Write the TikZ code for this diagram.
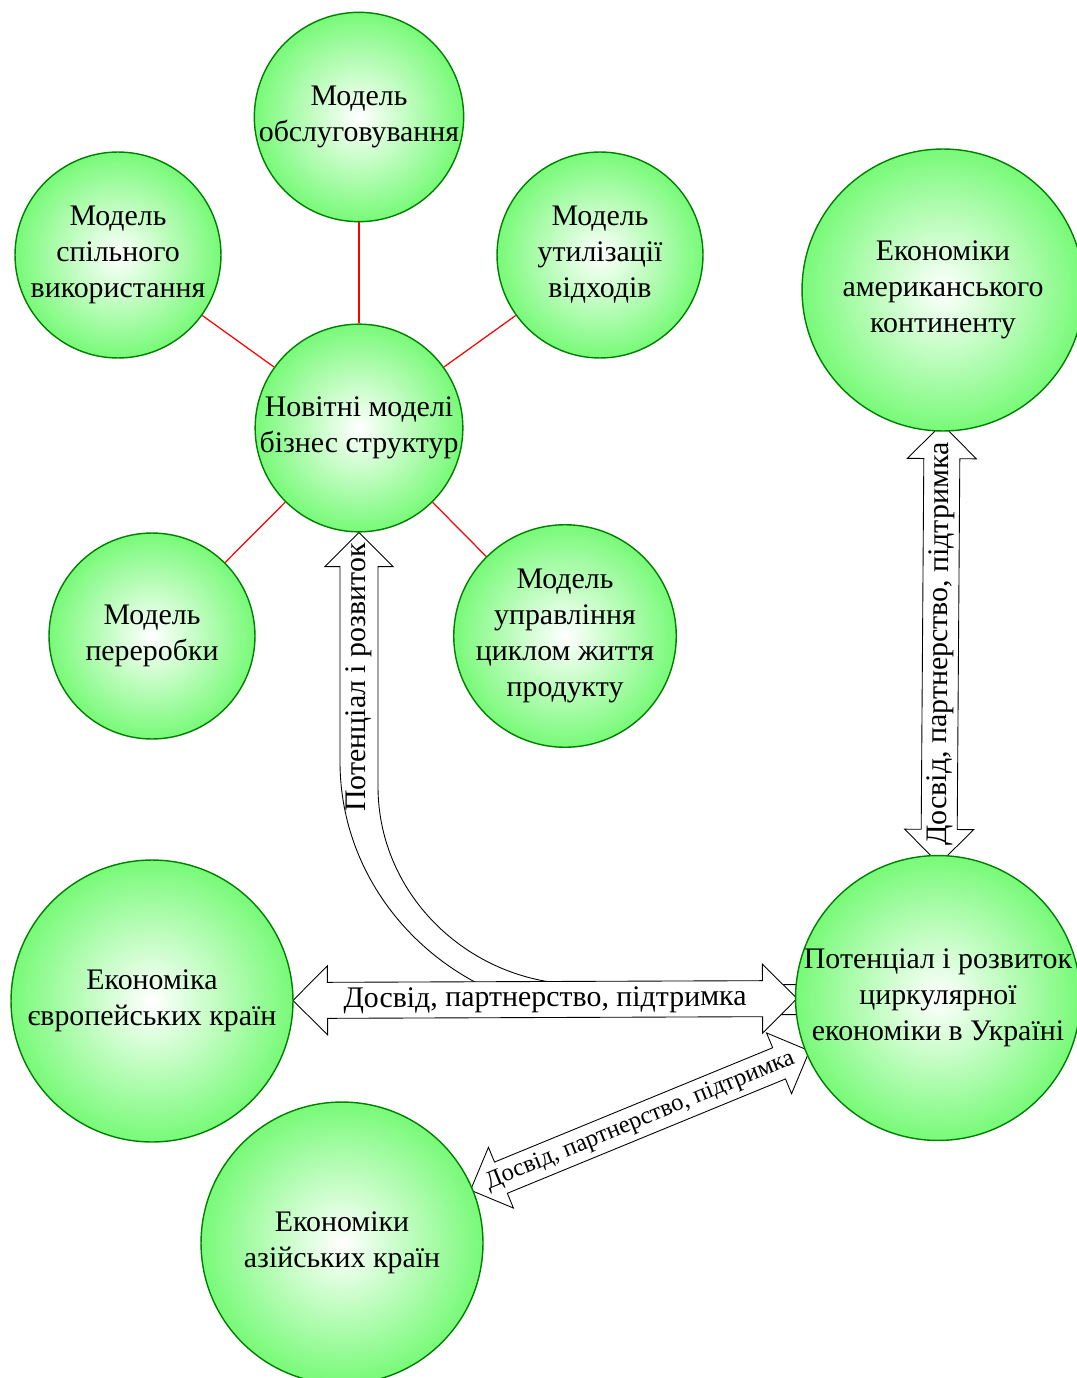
\documentclass[tikz,border=0pt]{standalone}
\usepackage{fontspec}
\setmainfont{Liberation Serif}
\usetikzlibrary{shapes.arrows,calc,backgrounds}

\definecolor{ballgreen}{RGB}{120,250,120}
\definecolor{rimgreen}{RGB}{0,128,0}
\pgfdeclareradialshading{ball}{\pgfpoint{0bp}{0bp}}{color(0bp)=(white); color(25bp)=(ballgreen); color(50bp)=(ballgreen)}

\tikzset{
  model/.style={circle, draw=rimgreen, line width=0.8pt, shading=ball, minimum size=4.12cm, inner sep=0pt, align=center, font=\fontsize{17}{20.5}\selectfont},
  economy/.style={model, minimum size=5.64cm},
  link/.style={red, line width=0.7pt},
  arrline/.style={draw=black, fill=white, line width=0.5pt},
  dblarr/.style={double arrow, arrline, double arrow head extend=0.33cm, inner xsep=0pt, inner ysep=2pt, text height=12pt, text depth=4pt, font=\fontsize{17}{20.5}\selectfont},
  smallarr/.style={dblarr, double arrow head extend=0.32cm, inner ysep=2.7pt, text height=10pt, text depth=3.3pt, font=\fontsize{14}{17}\selectfont},
}

\begin{document}
\begin{tikzpicture}[x=0.02cm, y=-0.02cm]
\useasboundingbox (0,0) rectangle (1076,1378);

% business models
\node[model] (nov) at (359,428) {Новітні моделі\\бізнес структур};
\node[model] (serv) at (359,117) {Модель\\обслуговування};
\node[model] (share) at (118,255) {Модель\\спільного\\використання};
\node[model] (waste) at (600,255) {Модель\\утилізації\\відходів};
\node[model] (proc) at (152,636) {Модель\\переробки};
\node[model] (cycle) at (565,636) {Модель\\управління\\циклом життя\\продукту};

% economies
\node[economy] (am) at (943,290) {Економіки\\американського\\континенту};
\node[economy] (ua) at (938,998) {Потенціал і розвиток\\циркулярної\\економіки в Україні};
\node[economy] (eu) at (152,1001) {Економіка\\європейських країн};
\node[economy] (as) at (342,1243) {Економіки\\азійських країн};

\begin{pgfonlayer}{background}
\foreach \m in {serv,share,waste,proc,cycle}
  \draw[link] (nov) -- (\m);

% curved arrow from ua up to nov
\begin{scope}[shift={(nov.south)}]
\draw[arrline] (0,0) -- (34,34) -- (19,34) -- (19,254)
  .. controls (19,363) and (111,452) .. (224,452) -- (439,452) -- (439,482) -- (246,482)
  .. controls (100,482) and (-19,369) .. (-19,229) -- (-19,34) -- (-34,34) -- cycle;
\node[rotate=90, font=\fontsize{17}{20.5}\selectfont] (pot) at (0,145) {Потенціал і розвиток};
\end{scope}

\path let \p1=($(ua)-(eu)$), \n1={atan2(\y1,\x1)}, \n2={veclen(\x1,\y1)-5.64cm} in
  node[dblarr, rotate=\n1, minimum height=\n2] (ar1) at ($(eu)!0.5!(ua)$) {Досвід, партнерство, підтримка};
\path let \p1=($(am)-(ua)$), \n1={atan2(\y1,\x1)}, \n2={veclen(\x1,\y1)-5.64cm} in
  node[dblarr, rotate=\n1, minimum height=\n2] (ar2) at ($(ua)!0.5!(am)$) {Досвід, партнерство, підтримка};
\path let \p1=($(ua)-(as)$), \n1={atan2(\y1,\x1)}, \n2={veclen(\x1,\y1)-5.64cm} in
  node[smallarr, rotate=\n1, minimum height=\n2] (ar3) at ($(as)!0.5!(ua)$) {Досвід, партнерство, підтримка};
\end{pgfonlayer}

\end{tikzpicture}
\end{document}
